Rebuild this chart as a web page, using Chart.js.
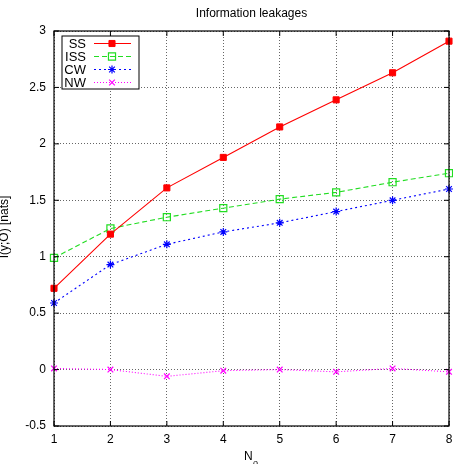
<!DOCTYPE html>
<html>
<head>
<meta charset="utf-8">
<script src="https://cdn.jsdelivr.net/npm/chart.js@4"></script>
<style>
  html, body { margin: 0; padding: 0; background: #fff; }
  #wrap { width: 453px; height: 464px; }
</style>
</head>
<body>
<div id="wrap"><canvas id="leak-chart" width="453" height="464"></canvas></div>
<script>
// values
const noValues = [1, 2, 3, 4, 5, 6, 7, 8];
const ssValues  = [0.72, 1.20, 1.61, 1.88, 2.15, 2.39, 2.63, 2.91];
const issValues = [0.99, 1.25, 1.35, 1.43, 1.51, 1.57, 1.66, 1.74];
const cwValues  = [0.59, 0.93, 1.11, 1.22, 1.30, 1.40, 1.50, 1.60];
const nwValues  = [0.01, 0.00, -0.06, -0.01, 0.00, -0.02, 0.01, -0.02];
const seriesNames = ['SS', 'ISS', 'CW', 'NW'];
const yTicks = [-0.5, 0, 0.5, 1, 1.5, 2, 2.5, 3];

const FONT = '"Liberation Sans", Arial, sans-serif';

function toPoints(ys) {
  return noValues.map((x, i) => ({ x: x, y: ys[i] }));
}

const datasets = [
  { label: seriesNames[0], data: toPoints(ssValues), borderColor: '#ff0000', backgroundColor: '#ff0000',
    pointStyle: 'rect', pointRadius: 4.3, pointBorderWidth: 1, borderDash: [] },
  { label: seriesNames[1], data: toPoints(issValues), borderColor: '#22dd22', backgroundColor: 'rgba(0,0,0,0)',
    pointStyle: 'rect', pointRadius: 5, pointBorderWidth: 1.2, borderDash: [5, 3] },
  { label: seriesNames[2], data: toPoints(cwValues), borderColor: '#0000ff', backgroundColor: '#0000ff',
    pointStyle: 'star', pointRadius: 4, pointBorderWidth: 1.2, borderDash: [2, 3] },
  { label: seriesNames[3], data: toPoints(nwValues), borderColor: '#ff00ff', backgroundColor: '#ff00ff',
    pointStyle: 'crossRot', pointRadius: 4, pointBorderWidth: 1.2, borderDash: [1, 2] }
];
datasets.forEach(d => {
  d.borderWidth = 1.1;
  d.pointBackgroundColor = d.backgroundColor;
  d.pointBorderColor = d.borderColor;
  d.tension = 0;
  d.clip = false;
});

// frame, title, axis titles and the boxed legend, gnuplot style
const gnuplotDecor = {
  id: 'gnuplotDecor',
  afterDatasetsDraw(chart) {
    const ctx = chart.ctx;
    const a = chart.chartArea;
    const xs = chart.scales.x, ys = chart.scales.y;
    ctx.save();
    ctx.strokeStyle = '#000';
    ctx.lineWidth = 1.2;
    ctx.strokeRect(a.left, a.top, a.right - a.left, a.bottom - a.top);
    ctx.lineWidth = 1;
    ctx.beginPath();
    noValues.forEach(v => {
      const px = xs.getPixelForValue(v);
      ctx.moveTo(px, a.bottom); ctx.lineTo(px, a.bottom - 5);
      ctx.moveTo(px, a.top); ctx.lineTo(px, a.top + 5);
    });
    yTicks.forEach(v => {
      const py = ys.getPixelForValue(v);
      ctx.moveTo(a.left, py); ctx.lineTo(a.left + 5, py);
      ctx.moveTo(a.right, py); ctx.lineTo(a.right - 5, py);
    });
    ctx.stroke();
    ctx.restore();
  },
  afterDraw(chart) {
    const ctx = chart.ctx;
    const a = chart.chartArea;
    const cx = (a.left + a.right) / 2;
    ctx.save();
    ctx.fillStyle = '#000';
    ctx.font = '12px ' + FONT;
    ctx.textAlign = 'center';
    ctx.textBaseline = 'alphabetic';
    ctx.fillText('Information leakages', cx, 17);

    // x title N_o
    ctx.textAlign = 'left';
    ctx.font = '12px ' + FONT;
    ctx.fillText('N', 244, 460);
    ctx.font = '9px ' + FONT;
    ctx.fillText('o', 253, 466);

    // y title, partly off the left edge like the original
    ctx.save();
    ctx.translate(7.5, 227);
    ctx.rotate(-Math.PI / 2);
    ctx.font = '12px ' + FONT;
    ctx.textAlign = 'center';
    ctx.fillText('I(y;O) [nats]', 0, 0);
    ctx.restore();

    // legend box
    const bx = 62, by = 36, bw = 77, bh = 53;
    ctx.fillStyle = '#fff';
    ctx.fillRect(bx, by, bw, bh);
    ctx.strokeStyle = '#000';
    ctx.lineWidth = 1;
    ctx.strokeRect(bx, by, bw, bh);
    chart.data.datasets.forEach((d, i) => {
      const y = 43.5 + i * 13;
      ctx.fillStyle = '#000';
      ctx.font = '13px ' + FONT;
      ctx.textAlign = 'right';
      ctx.textBaseline = 'middle';
      ctx.fillText(d.label, 86, y + 0.5);
      ctx.strokeStyle = d.borderColor;
      ctx.lineWidth = d.borderWidth;
      ctx.setLineDash(d.borderDash);
      ctx.beginPath();
      ctx.moveTo(94, y); ctx.lineTo(131, y);
      ctx.stroke();
      ctx.setLineDash([]);
      ctx.fillStyle = d.pointBackgroundColor;
      ctx.strokeStyle = d.pointBorderColor;
      ctx.lineWidth = d.pointBorderWidth;
      Chart.helpers.drawPoint(ctx, {
        pointStyle: d.pointStyle, radius: d.pointRadius, rotation: 0, borderWidth: d.pointBorderWidth
      }, 112, y);
    });
    ctx.restore();
  }
};

new Chart(document.getElementById('leak-chart'), {
  type: 'line',
  data: { datasets: datasets },
  options: {
    responsive: false,
    animation: false,
    events: [],
    layout: { autoPadding: false, padding: { top: 31, right: 4, left: 0, bottom: 0 } },
    plugins: { legend: { display: false }, tooltip: { enabled: false }, title: { display: false } },
    scales: {
      x: {
        type: 'linear', min: 1, max: 8,
        afterFit: s => { s.height = 38; s.paddingLeft = 0; s.paddingRight = 0; },
        ticks: { stepSize: 1, color: '#000', padding: 6, font: { family: FONT, size: 12 } },
        grid: { color: '#666', drawTicks: false, lineWidth: 1 },
        border: { display: false, dash: [1, 2] }
      },
      y: {
        min: -0.5, max: 3,
        afterFit: s => { s.width = 54; s.paddingTop = 0; s.paddingBottom = 0; },
        afterBuildTicks: s => { s.ticks = yTicks.map(v => ({ value: v })); },
        ticks: { color: '#000', padding: 8, font: { family: FONT, size: 12 }, callback: v => String(v) },
        grid: { color: '#666', drawTicks: false, lineWidth: 1 },
        border: { display: false, dash: [1, 2] }
      }
    }
  },
  plugins: [gnuplotDecor]
});
</script>
</body>
</html>
